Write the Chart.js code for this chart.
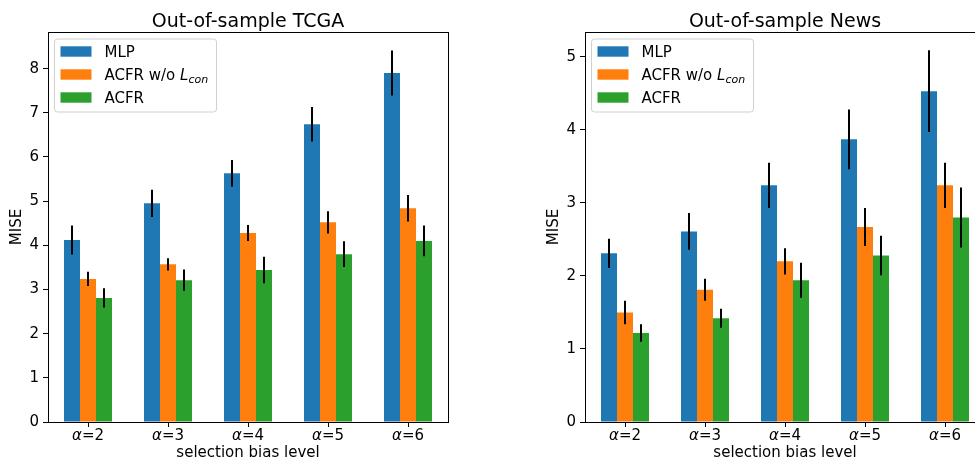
<!DOCTYPE html>
<html lang="en">
<head>
<meta charset="UTF-8">
<title>Out-of-sample MISE</title>
<script src="https://cdn.jsdelivr.net/npm/chart.js"></script>
<style>
  html, body { margin: 0; padding: 0; background: #fff; overflow: hidden; }
  #wrap { position: relative; width: 975px; height: 463px; overflow: hidden; }
  .panel { position: absolute; top: 0; width: 460px; height: 463px; }
</style>
</head>
<body>
<div id="wrap">
  <div class="panel" style="left:0px"><canvas id="tcgaChart"></canvas></div>
  <div class="panel" style="left:537px"><canvas id="newsChart"></canvas></div>
</div>

<script>
// categories (alpha = selection bias)
const alphas = [2, 3, 4, 5, 6];
const seriesNames = ['MLP', 'ACFR w/o L_con', 'ACFR'];
const seriesColors = ['#1f77b4', '#ff7f0e', '#2ca02c'];

// TCGA
const tcgaMLP      = [4.12, 4.95, 5.63, 6.74, 7.90];
const tcgaMLPErr   = [0.33, 0.31, 0.30, 0.39, 0.51];
const tcgaNoCon    = [3.24, 3.57, 4.28, 4.52, 4.84];
const tcgaNoConErr = [0.16, 0.14, 0.18, 0.25, 0.30];
const tcgaACFR     = [2.81, 3.21, 3.44, 3.80, 4.10];
const tcgaACFRErr  = [0.22, 0.24, 0.30, 0.29, 0.35];

// News
const newsMLP      = [2.31, 2.61, 3.24, 3.87, 4.53];
const newsMLPErr   = [0.20, 0.25, 0.31, 0.41, 0.56];
const newsNoCon    = [1.50, 1.81, 2.20, 2.67, 3.24];
const newsNoConErr = [0.16, 0.15, 0.18, 0.26, 0.31];
const newsACFR     = [1.22, 1.42, 1.94, 2.28, 2.80];
const newsACFRErr  = [0.12, 0.13, 0.24, 0.27, 0.41];

const FONT = 'DejaVu Sans';

// frame, title, error bars, x tick labels and legend, drawn matplotlib-style
const mplPlugin = {
  id: 'mpl',
  afterDatasetsDraw(chart) {
    const ctx = chart.ctx;
    const yScale = chart.scales.y;
    ctx.save();
    ctx.strokeStyle = '#000';
    ctx.lineWidth = 2;
    chart.data.datasets.forEach((ds, i) => {
      const meta = chart.getDatasetMeta(i);
      meta.data.forEach((bar, j) => {
        const v = ds.data[j], e = ds.errors[j];
        ctx.beginPath();
        ctx.moveTo(bar.x, yScale.getPixelForValue(v - e));
        ctx.lineTo(bar.x, yScale.getPixelForValue(v + e));
        ctx.stroke();
      });
    });
    ctx.restore();
  },
  afterDraw(chart, args, opts) {
    const ctx = chart.ctx;
    const a = chart.chartArea;
    ctx.save();
    // box
    ctx.strokeStyle = '#000';
    ctx.lineWidth = 1;
    ctx.strokeRect(Math.round(a.left) + 0.5, Math.round(a.top) + 0.5,
                   Math.round(a.right - a.left), Math.round(a.bottom - a.top));

    // title
    ctx.fillStyle = '#000';
    ctx.font = '19px "' + FONT + '"';
    ctx.textAlign = 'center';
    ctx.textBaseline = 'alphabetic';
    ctx.fillText(opts.title, (a.left + a.right) / 2, 26.5);

    // x tick labels: italic alpha + "=n"
    const xs = chart.scales.x;
    ctx.textAlign = 'left';
    chart.data.labels.forEach((lab, i) => {
      const x = xs.getPixelForTick(i);
      const rest = '=' + lab;
      ctx.font = 'italic 15px "' + FONT + '"';
      const wA = ctx.measureText('α').width;
      ctx.font = '15px "' + FONT + '"';
      const wR = ctx.measureText(rest).width;
      const x0 = x - (wA + wR) / 2;
      ctx.font = 'italic 15px "' + FONT + '"';
      ctx.fillText('α', x0, 440);
      ctx.font = '15px "' + FONT + '"';
      ctx.fillText(rest, x0 + wA, 440);
    });

    // legend
    const bx = a.left + 6.5, by = a.top + 7, bw = 162, bh = 73;
    ctx.beginPath();
    ctx.roundRect(bx, by, bw, bh, 3);
    ctx.fillStyle = 'rgba(255,255,255,0.8)';
    ctx.fill();
    ctx.strokeStyle = '#d0d0d0';
    ctx.lineWidth = 1;
    ctx.stroke();
    chart.data.datasets.forEach((ds, i) => {
      const cy = by + 12.5 + i * 23;
      ctx.fillStyle = ds.backgroundColor;
      ctx.fillRect(bx + 6, cy - 5.2, 31, 10.4);
      ctx.fillStyle = '#000';
      ctx.textBaseline = 'alphabetic';
      const tx = bx + 50, base = cy + 5.5;
      const parts = ds.label.split(' L_');
      ctx.font = '15px "' + FONT + '"';
      ctx.fillText(parts[0], tx, base);
      if (parts.length > 1) {
        let x = tx + ctx.measureText(parts[0] + ' ').width;
        ctx.font = 'italic 15px "' + FONT + '"';
        ctx.fillText('L', x, base);
        x += ctx.measureText('L').width;
        ctx.font = 'italic 11px "' + FONT + '"';
        ctx.fillText(parts[1], x, base + 3);
      }
    });
    ctx.restore();
  }
};

function makeChart(id, title, vals, errs, ymax) {
  const ctx = document.getElementById(id).getContext('2d');
  return new Chart(ctx, {
    type: 'bar',
    data: {
      labels: alphas,
      datasets: seriesNames.map((name, i) => ({
        label: name,
        data: vals[i],
        errors: errs[i],
        backgroundColor: seriesColors[i],
        borderWidth: 0,
        categoryPercentage: 0.6,
        barPercentage: 1.0
      }))
    },
    options: {
      responsive: false,
      animation: false,
      devicePixelRatio: 1,
      layout: { padding: { left: 0, right: 12, top: 32, bottom: 0 } },
      scales: {
        x: {
          offset: true,
          grid: { display: true, offset: false, drawOnChartArea: false, drawTicks: true, tickLength: 5, color: '#000' },
          border: { display: true, color: '#000', width: 1 },
          ticks: { display: false },
          title: { display: true, text: 'selection bias level', color: '#000',
                   font: { family: FONT, size: 15 }, padding: { top: 0, bottom: 1 } },
          afterFit: s => { s.height = 41; }
        },
        y: {
          min: 0,
          max: ymax,
          grid: { display: true, drawOnChartArea: false, drawTicks: true, tickLength: 5, color: '#000' },
          border: { display: true, color: '#000', width: 1 },
          ticks: { stepSize: 1, padding: 4, color: '#000', font: { family: FONT, size: 15 } },
          afterBuildTicks: s => { s.ticks = s.ticks.filter(t => Number.isInteger(t.value)); },
          title: { display: true, text: 'MISE', color: '#000',
                   font: { family: FONT, size: 15 }, padding: { top: 8, bottom: 0 } },
          afterFit: s => { s.width = 48; }
        }
      },
      plugins: {
        legend: { display: false },
        tooltip: { enabled: false },
        mpl: { title: title }
      }
    },
    plugins: [mplPlugin]
  });
}

document.getElementById('tcgaChart').width = 460;
document.getElementById('tcgaChart').height = 463;
document.getElementById('newsChart').width = 460;
document.getElementById('newsChart').height = 463;

makeChart('tcgaChart', 'Out-of-sample TCGA',
  [tcgaMLP, tcgaNoCon, tcgaACFR], [tcgaMLPErr, tcgaNoConErr, tcgaACFRErr], 8.83);
makeChart('newsChart', 'Out-of-sample News',
  [newsMLP, newsNoCon, newsACFR], [newsMLPErr, newsNoConErr, newsACFRErr], 5.34);
</script>
</body>
</html>
